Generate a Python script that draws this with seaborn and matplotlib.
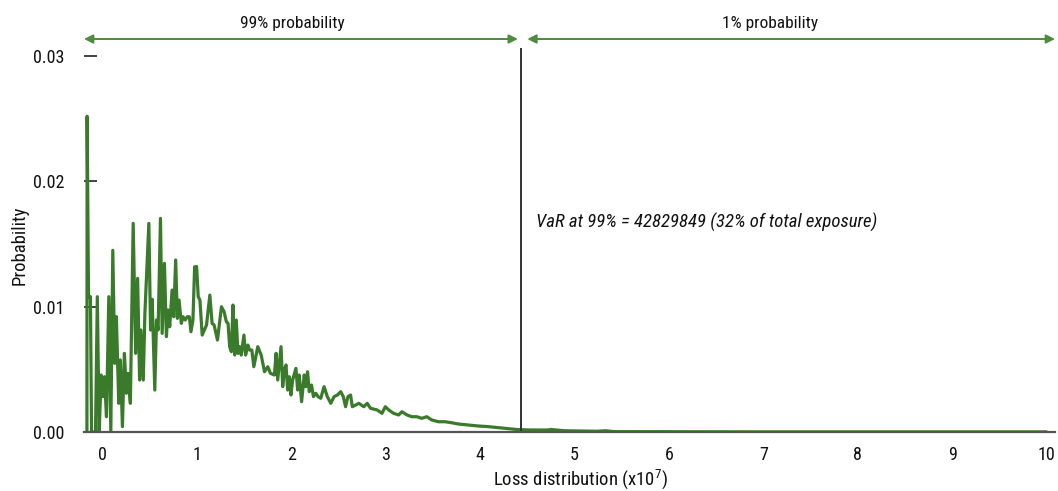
import matplotlib
matplotlib.use("Agg")
import matplotlib.pyplot as plt
from matplotlib import font_manager
import seaborn as sns
import pandas as pd

# ---- data ----
loss_x = [-0.165, -0.163, -0.148, -0.128, -0.116, -0.091, -0.074, -0.055, -0.035, -0.014,
          0.004, 0.021, 0.042, 0.067, 0.088, 0.109, 0.13, 0.147, 0.172, 0.189,
          0.211, 0.232, 0.253, 0.27, 0.295, 0.325, 0.351, 0.372, 0.393, 0.407,
          0.432, 0.449, 0.491, 0.509, 0.526, 0.554, 0.572, 0.589, 0.614, 0.632,
          0.656, 0.677, 0.695, 0.712, 0.737, 0.754, 0.775, 0.793, 0.811, 0.835,
          0.853, 0.877, 0.898, 0.92, 0.937, 0.958, 0.976, 0.997, 1.014, 1.032,
          1.056, 1.102, 1.137, 1.161, 1.182, 1.218, 1.26, 1.288, 1.312, 1.33,
          1.347, 1.365, 1.382, 1.4, 1.417, 1.435, 1.453, 1.47, 1.498, 1.516,
          1.54, 1.558, 1.582, 1.603, 1.645, 1.681, 1.716, 1.751, 1.779, 1.821,
          1.839, 1.856, 1.874, 1.891, 1.909, 1.926, 1.944, 1.961, 1.979, 1.996,
          2.014, 2.049, 2.067, 2.084, 2.109, 2.137, 2.154, 2.172, 2.19, 2.214,
          2.235, 2.26, 2.284, 2.312, 2.347, 2.382, 2.418, 2.453, 2.488, 2.523,
          2.551, 2.575, 2.6, 2.628, 2.646, 2.681, 2.716, 2.768, 2.804, 2.839,
          2.909, 2.961, 2.996, 3.032, 3.084, 3.137, 3.172, 3.225, 3.277, 3.33,
          3.382, 3.435, 3.488, 3.558, 3.628, 3.698, 3.768, 3.874, 3.979, 4.084,
          4.19, 4.295, 4.4, 4.54, 4.716, 4.75, 4.891, 5.07, 5.24, 5.33,
          5.42, 6.0, 7.0, 8.0, 9.0, 10.0]
probability = [0.0, 0.0252, 0.0108, 0.0108, 0.0, 0.0, 0.0, 0.0108, 0.0, 0.00455,
               0.00282, 0.00441, 0.00122, 0.0108, 0.0, 0.0145, 0.00548, 0.0092, 0.00229, 0.00575,
               0.00043, 0.00628, 0.00309, 0.00468, 0.00229, 0.01665, 0.00628, 0.01226, 0.00415, 0.00814,
               0.00415, 0.00947, 0.01665, 0.00814, 0.0106, 0.00335, 0.00894, 0.00814, 0.01705, 0.00787,
               0.01346, 0.00761, 0.00974, 0.0084, 0.01133, 0.0092, 0.01373, 0.00907, 0.01053, 0.00867,
               0.0092, 0.00894, 0.0092, 0.0092, 0.008, 0.00894, 0.01319, 0.0132, 0.0108, 0.01053,
               0.00774, 0.00854, 0.01093, 0.00867, 0.00854, 0.00734, 0.01, 0.0096, 0.0088, 0.00867,
               0.00681, 0.00641, 0.01013, 0.00614, 0.00894, 0.00628, 0.00681, 0.00614, 0.00774, 0.00614,
               0.00694, 0.00654, 0.00654, 0.00521, 0.00681, 0.00614, 0.00481, 0.00521, 0.00468, 0.00455,
               0.00628, 0.00415, 0.00548, 0.00681, 0.00362, 0.00495, 0.00535, 0.00335, 0.00441, 0.00295,
               0.00415, 0.00508, 0.00335, 0.00455, 0.00242, 0.00455, 0.00362, 0.00481, 0.00322, 0.00375,
               0.00282, 0.00309, 0.00282, 0.00269, 0.00362, 0.00282, 0.00229, 0.00282, 0.00295, 0.00322,
               0.00282, 0.00202, 0.00282, 0.00295, 0.00202, 0.00215, 0.00229, 0.00202, 0.00229, 0.00189,
               0.00176, 0.00149, 0.00202, 0.00176, 0.00149, 0.00136, 0.00162, 0.00136, 0.00122, 0.00122,
               0.00109, 0.00122, 0.00096, 0.00082, 0.00082, 0.00074, 0.00064, 0.00056, 0.00048, 0.00043,
               0.00035, 0.00027, 0.00019, 0.00016, 0.00016, 0.0002, 0.0001, 0.00008, 0.00006, 0.0001,
               0.00003, 0.00002, 0.00001, 0.00001, 0.00001, 0.00001]
x_ticks = [0, 1, 2, 3, 4, 5, 6, 7, 8, 9, 10]
y_ticks = [0.00, 0.01, 0.02, 0.03]
y_tick_labels = ["0.00", "0.01", "0.02", "0.03"]
var_position = 4.43
var_label = "VaR at 99% = 42829849 (32% of total exposure)"
left_label = "99% probability"
right_label = "1% probability"

df = pd.DataFrame({"loss": loss_x, "prob": probability})

sns.set_theme(style="white")


def pick_font():
    entries = font_manager.fontManager.ttflist
    names = {f.name for f in entries}
    for p in ["Liberation Sans Narrow", "Roboto Condensed", "Open Sans Condensed",
              "Noto Sans SemiCondensed", "Noto Sans Condensed", "DejaVu Sans Condensed"]:
        if p in names:
            return p, "normal"
    for fam in ["Noto Sans", "Open Sans", "Roboto", "DejaVu Sans"]:
        for st in ["semi-condensed", "condensed"]:
            for f in entries:
                if f.name == fam and f.stretch == st:
                    return fam, st
    return "DejaVu Sans", "normal"


font_name, font_stretch = pick_font()
fam = [font_name, "DejaVu Sans"]
plt.rcParams["font.family"] = fam
plt.rcParams["font.stretch"] = font_stretch
plt.rcParams["mathtext.fontset"] = "custom"
plt.rcParams["mathtext.rm"] = font_name
plt.rcParams["mathtext.it"] = font_name + ":italic"

green = "#3a7a2b"
arrow_green = "#4c8c3c"

fig = plt.figure(figsize=(10.58, 4.91), dpi=100)
ax = fig.add_axes([84 / 1058, 1 - 432 / 491, (1055 - 84) / 1058, (432 - 48) / 491])

sns.lineplot(data=df, x="loss", y="prob", ax=ax, color=green, linewidth=2.3,
             estimator=None, sort=False)

ax.set_xlim(-0.196, 10.09)
ax.set_ylim(0, 0.03065)
ax.set_xticks(x_ticks)
ax.set_xticklabels([str(t) for t in x_ticks])
ax.set_yticks(y_ticks)
ax.set_yticklabels(y_tick_labels)
ax.tick_params(axis="x", length=0, pad=10, labelsize=13, labelcolor="#111111")
ax.tick_params(axis="y", direction="in", length=9, width=1.1, color="#111111",
               pad=14, labelsize=13, labelcolor="#111111", left=True)

for s in ["top", "right", "left"]:
    ax.spines[s].set_visible(False)
ax.spines["bottom"].set_color("#555555")
ax.spines["bottom"].set_linewidth(1.6)

ax.set_xlabel(r"Loss distribution (x10$^{7}$)", fontsize=13.5, color="#111111")
ax.xaxis.set_label_coords(0.511, -0.093)
ax.set_ylabel("Probability", fontsize=13.5, color="#111111")
ax.yaxis.set_label_coords(-0.057, 0.487)

ax.axvline(var_position, color="#333333", linewidth=1.4)
ax.text(4.59, 0.01676, var_label, fontsize=13.5, style="italic", color="#111111",
        ha="left", va="center")

arrow_y = 1.0234
ax.annotate("", xy=(4.4, arrow_y), xytext=(-0.196, arrow_y),
            xycoords=("data", "axes fraction"), textcoords=("data", "axes fraction"),
            arrowprops=dict(arrowstyle="<|-|>", color=arrow_green, lw=1.4,
                            mutation_scale=13, shrinkA=0, shrinkB=0),
            annotation_clip=False)
ax.annotate("", xy=(10.09, arrow_y), xytext=(4.5, arrow_y),
            xycoords=("data", "axes fraction"), textcoords=("data", "axes fraction"),
            arrowprops=dict(arrowstyle="<|-|>", color=arrow_green, lw=1.4,
                            mutation_scale=13, shrinkA=0, shrinkB=0),
            annotation_clip=False)
ax.text(2.015, 1.063, left_label, transform=ax.get_xaxis_transform(), ha="center",
        va="center", fontsize=12.5, color="#111111")
ax.text(7.07, 1.063, right_label, transform=ax.get_xaxis_transform(), ha="center",
        va="center", fontsize=12.5, color="#111111")

fig.savefig("out.png", dpi=100)
